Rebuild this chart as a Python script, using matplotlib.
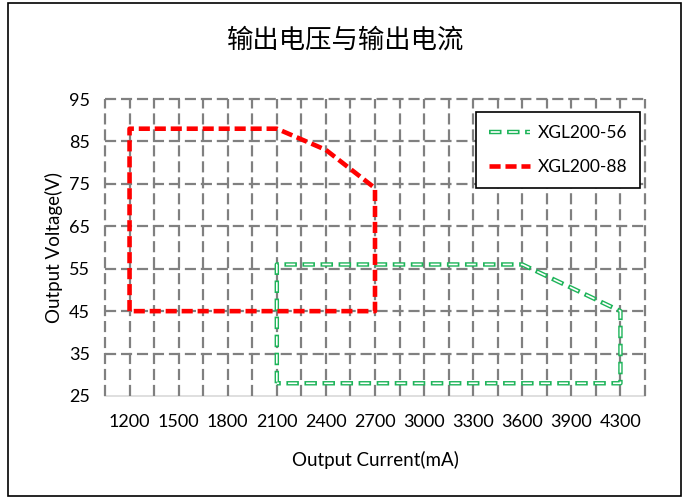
import numpy as np
import matplotlib.pyplot as plt
from matplotlib.patches import Rectangle
from matplotlib.lines import Line2D

plt.rcParams['lines.scale_dashes'] = False
plt.rcParams['font.family'] = ['Lato', 'DejaVu Sans']

# data
xgl56_current = [2100, 2100, 3600, 4200, 4200, 2100]
xgl56_voltage = [28, 56, 56, 45, 28, 28]
xgl88_current = [1200, 1200, 2100, 2400, 2700, 2700, 1200]
xgl88_voltage = [45, 88, 88, 83, 74, 45, 45]
x_ticks = [1200, 1500, 1800, 2100, 2400, 2700, 3000, 3300, 3600, 3900, 4200]
x_labels = ['1200', '1500', '1800', '2100', '2400', '2700', '3000', '3300', '3600', '3900', '4300']
y_ticks = [25, 35, 45, 55, 65, 75, 85, 95]

green = '#1db459'

fig = plt.figure(figsize=(6.88, 4.99), dpi=100)
ax = fig.add_axes([105/688, 1 - 396/499, 540/688, 297/499])
ax.set_xlim(1050, 4350)
ax.set_ylim(25, 95)

# grid
grid_kw = dict(color='#808080', lw=1.6, linestyle=(0, (8, 3.5)), clip_on=False, zorder=1)
ax.vlines(np.arange(1050, 4351, 150), 25, 95, **grid_kw)
ax.hlines(y_ticks[1:], 1050, 4350, **grid_kw)

for s in ['top', 'right', 'left']:
    ax.spines[s].set_visible(False)
ax.spines['bottom'].set_color('#d9d9d9')
ax.spines['bottom'].set_linewidth(1.2)
ax.spines['bottom'].set_zorder(0)

# green hollow dashed line
on, off, d = 9, 4, 1.2
ax.plot(xgl56_current, xgl56_voltage, color=green, lw=3.2,
        linestyle=(0, (on, off)), zorder=3, clip_on=False)
ax.plot(xgl56_current, xgl56_voltage, color='white', lw=1.2,
        linestyle=(on + off - d, (on - 2 * d, off + 2 * d)), zorder=4, clip_on=False)
# red dashed line
ax.plot(xgl88_current, xgl88_voltage, color='#ff0000', lw=3.3,
        linestyle=(0, (8, 3.5)), zorder=5, clip_on=False)

ax.set_xticks(x_ticks)
ax.set_xticklabels(x_labels)
ax.set_yticks(y_ticks)
ax.tick_params(length=0, labelsize=13, pad=13)
ax.tick_params(axis='y', pad=11)
ax.set_xlabel('Output Current(mA)', fontsize=13.5, labelpad=15)
ax.set_ylabel('Output Voltage(V)', fontsize=13.5, labelpad=4)

# legend proxies
g1 = Line2D([], [], color=green, lw=3.2, linestyle=(0, (on, off)))
g2 = Line2D([], [], color='white', lw=1.2, linestyle=(on + off - d, (on - 2 * d, off + 2 * d)))
r1 = Line2D([], [], color='#ff0000', lw=3.3, linestyle=(0, (8, 3.5)))
leg = ax.legend([(g1, g2), r1], ['XGL200-56', 'XGL200-88'], loc='upper right',
                bbox_to_anchor=(0.9907, 0.956), borderaxespad=0, fontsize=12.5, frameon=True,
                fancybox=False, framealpha=1, edgecolor='black',
                handlelength=2.4, borderpad=0.75, labelspacing=1.05, handletextpad=0.4)
leg.get_frame().set_linewidth(1.2)
leg.set_zorder(10)

fig.text(0.502, 1 - 40/499, '输出电压与输出电流', ha='center', va='center',
         fontsize=19, family=['Noto Sans CJK SC', 'DejaVu Sans'])

fig.patches.append(Rectangle((8/688, 1 - 496/499), 673/688, 493/499, transform=fig.transFigure,
                             fill=False, edgecolor='black', lw=1.2))

fig.savefig('out.png', dpi=100)
